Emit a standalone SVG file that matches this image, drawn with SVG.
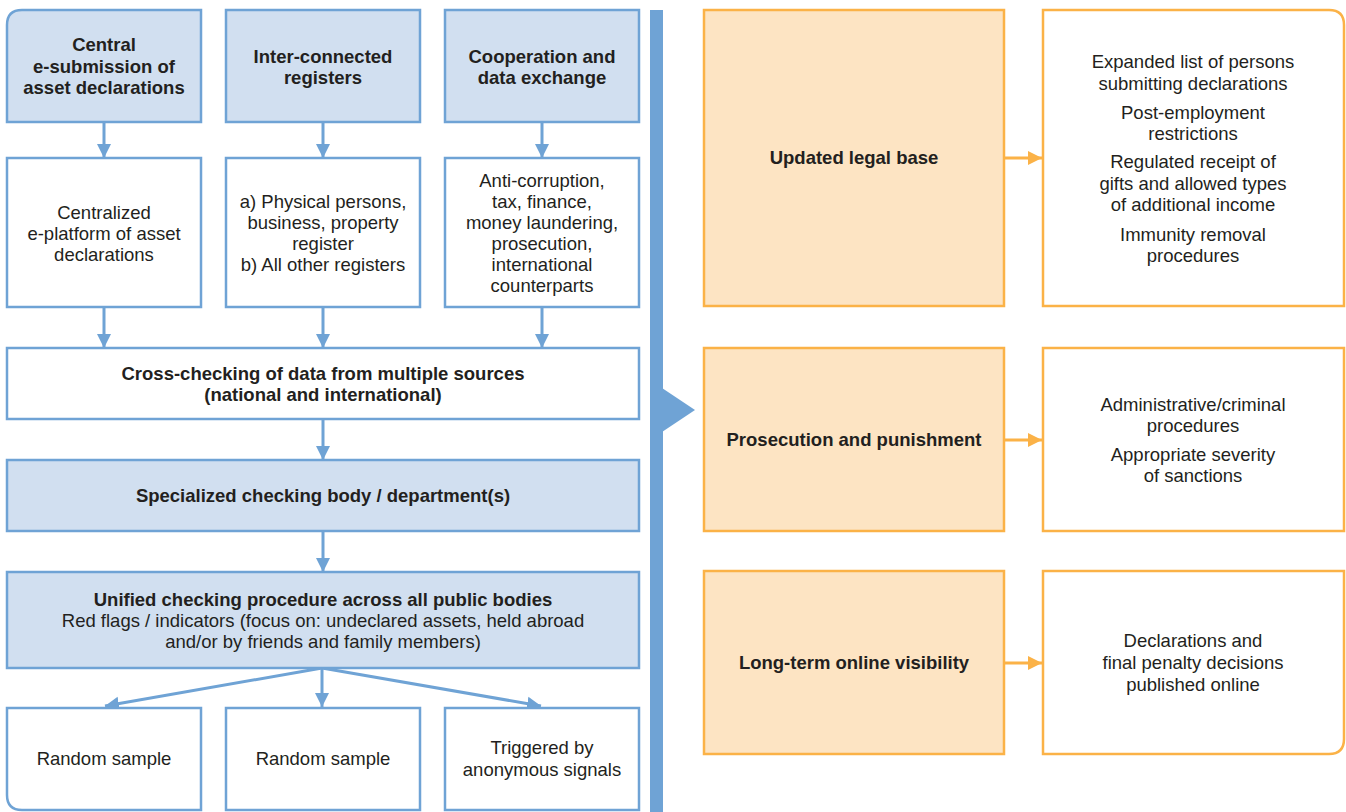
<svg xmlns="http://www.w3.org/2000/svg" width="1346" height="812" viewBox="0 0 1346 812">
<defs>
<style>
.bb{fill:#d1dff0;stroke:#6fa3d5;stroke-width:2.5}
.bw{fill:#ffffff;stroke:#6fa3d5;stroke-width:2.5}
.ob{fill:#fde4c3;stroke:#fbb247;stroke-width:2.5}
.ow{fill:#ffffff;stroke:#fbb247;stroke-width:2.5}
text{font-family:"Liberation Sans",Arial,sans-serif;font-size:18.5px;fill:#231f20;text-anchor:middle}
.b{font-weight:bold}
.cb{stroke:#6fa3d5;stroke-width:3;fill:none}
.co{stroke:#fbb247;stroke-width:3;fill:none}
</style>
<marker id="ab" markerUnits="userSpaceOnUse" markerWidth="16" markerHeight="16" viewBox="0 0 16 16" refX="14" refY="8" orient="auto"><path d="M0,1 L14,8 L0,15 Z" fill="#6fa3d5"/></marker>
<marker id="ao" markerUnits="userSpaceOnUse" markerWidth="16" markerHeight="16" viewBox="0 0 16 16" refX="14" refY="8" orient="auto"><path d="M0,1 L14,8 L0,15 Z" fill="#fbb247"/></marker>
</defs>
<rect width="1346" height="812" fill="#ffffff"/>

<g id="divider">
<rect x="650" y="10" width="13" height="802" fill="#6fa3d5"/>
<polygon points="662,388 695,410 662,432" fill="#6fa3d5"/>
</g>

<g id="connectors">
<line class="cb" x1="104" y1="122" x2="104" y2="158" marker-end="url(#ab)"/>
<line class="cb" x1="323" y1="122" x2="323" y2="158" marker-end="url(#ab)"/>
<line class="cb" x1="542" y1="122" x2="542" y2="158" marker-end="url(#ab)"/>
<line class="cb" x1="104" y1="307" x2="104" y2="348" marker-end="url(#ab)"/>
<line class="cb" x1="323" y1="307" x2="323" y2="348" marker-end="url(#ab)"/>
<line class="cb" x1="542" y1="307" x2="542" y2="348" marker-end="url(#ab)"/>
<line class="cb" x1="323" y1="419" x2="323" y2="460" marker-end="url(#ab)"/>
<line class="cb" x1="323" y1="531" x2="323" y2="572" marker-end="url(#ab)"/>
<line class="cb" x1="322" y1="668" x2="105" y2="706" marker-end="url(#ab)"/>
<line class="cb" x1="322" y1="668" x2="322" y2="707" marker-end="url(#ab)"/>
<line class="cb" x1="322" y1="668" x2="541" y2="706" marker-end="url(#ab)"/>
<line class="co" x1="1004" y1="158" x2="1042" y2="158" marker-end="url(#ao)"/>
<line class="co" x1="1004" y1="440" x2="1042" y2="440" marker-end="url(#ao)"/>
<line class="co" x1="1004" y1="663" x2="1042" y2="663" marker-end="url(#ao)"/>
</g>

<g id="n-central">
<path class="bb" d="M7,122 V25 Q7,10 22,10 H201 V122 Z"/>
<text class="b" x="104" y="51">Central</text>
<text class="b" x="104" y="73">e-submission of</text>
<text class="b" x="104" y="94">asset declarations</text>
</g>
<g id="n-registers">
<rect class="bb" x="226" y="10" width="194" height="112"/>
<text class="b" x="323" y="63">Inter-connected</text>
<text class="b" x="323" y="84">registers</text>
</g>
<g id="n-coop">
<rect class="bb" x="445" y="10" width="194" height="112"/>
<text class="b" x="542" y="63">Cooperation and</text>
<text class="b" x="542" y="84">data exchange</text>
</g>

<g id="n-platform">
<rect class="bw" x="7" y="158" width="194" height="149"/>
<text x="104" y="219">Centralized</text>
<text x="104" y="240">e-platform of asset</text>
<text x="104" y="261">declarations</text>
</g>
<g id="n-physical">
<rect class="bw" x="226" y="158" width="194" height="149"/>
<text x="323" y="208">a) Physical persons,</text>
<text x="323" y="229">business, property</text>
<text x="323" y="250">register</text>
<text x="323" y="271">b) All other registers</text>
</g>
<g id="n-anticorruption">
<rect class="bw" x="445" y="158" width="194" height="149"/>
<text x="542" y="187">Anti-corruption,</text>
<text x="542" y="208">tax, finance,</text>
<text x="542" y="229">money laundering,</text>
<text x="542" y="250">prosecution,</text>
<text x="542" y="271">international</text>
<text x="542" y="292">counterparts</text>
</g>

<g id="n-crosscheck">
<rect class="bw" x="7" y="348" width="632" height="71"/>
<text class="b" x="323" y="380">Cross-checking of data from multiple sources</text>
<text class="b" x="323" y="401">(national and international)</text>
</g>
<g id="n-specialized">
<rect class="bb" x="7" y="460" width="632" height="71"/>
<text class="b" x="323" y="502">Specialized checking body / department(s)</text>
</g>
<g id="n-unified">
<rect class="bb" x="7" y="572" width="632" height="96"/>
<text class="b" x="323" y="606">Unified checking procedure across all public bodies</text>
<text x="323" y="627">Red flags / indicators (focus on: undeclared assets, held abroad</text>
<text x="323" y="648">and/or by friends and family members)</text>
</g>

<g id="n-random1">
<path class="bw" d="M7,708 H201 V810 H22 Q7,810 7,795 Z"/>
<text x="104" y="765">Random sample</text>
</g>
<g id="n-random2">
<rect class="bw" x="226" y="708" width="194" height="102"/>
<text x="323" y="765">Random sample</text>
</g>
<g id="n-triggered">
<rect class="bw" x="445" y="708" width="194" height="102"/>
<text x="542" y="754">Triggered by</text>
<text x="542" y="776">anonymous signals</text>
</g>

<g id="n-legal">
<rect class="ob" x="704" y="10" width="300" height="296"/>
<text class="b" x="854" y="164">Updated legal base</text>
</g>
<g id="n-legal-detail">
<path class="ow" d="M1043,10 H1329 Q1344,10 1344,25 V306 H1043 Z"/>
<text x="1193" y="68">Expanded list of persons</text>
<text x="1193" y="90">submitting declarations</text>
<text x="1193" y="119">Post-employment</text>
<text x="1193" y="140">restrictions</text>
<text x="1193" y="168">Regulated receipt of</text>
<text x="1193" y="190">gifts and allowed types</text>
<text x="1193" y="211">of additional income</text>
<text x="1193" y="241">Immunity removal</text>
<text x="1193" y="262">procedures</text>
</g>

<g id="n-prosecution">
<rect class="ob" x="704" y="348" width="300" height="183"/>
<text class="b" x="854" y="446">Prosecution and punishment</text>
</g>
<g id="n-prosecution-detail">
<rect class="ow" x="1043" y="348" width="301" height="183"/>
<text x="1193" y="411">Administrative/criminal</text>
<text x="1193" y="432">procedures</text>
<text x="1193" y="461">Appropriate severity</text>
<text x="1193" y="482">of sanctions</text>
</g>

<g id="n-visibility">
<rect class="ob" x="704" y="571" width="300" height="183"/>
<text class="b" x="854" y="669">Long-term online visibility</text>
</g>
<g id="n-visibility-detail">
<path class="ow" d="M1043,571 H1344 V739 Q1344,754 1329,754 H1043 Z"/>
<text x="1193" y="647">Declarations and</text>
<text x="1193" y="669">final penalty decisions</text>
<text x="1193" y="691">published online</text>
</g>
</svg>
